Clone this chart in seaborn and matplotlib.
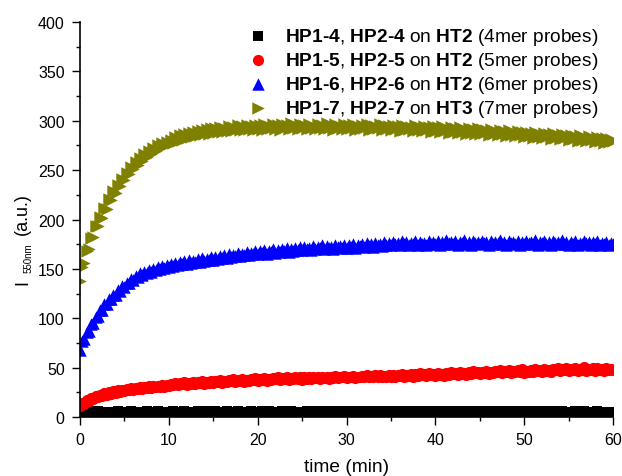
import matplotlib
matplotlib.use("Agg")
import matplotlib.pyplot as plt
import seaborn as sns
import pandas as pd

# sampling grid (min), one row = 5 min
time_min = [0, 0.25, 0.5, 0.75, 1, 1.25, 1.5, 1.75, 2, 2.25, 2.5, 2.75, 3, 3.25, 3.5, 3.75, 4, 4.25, 4.5, 4.75,
            5, 5.25, 5.5, 5.75, 6, 6.25, 6.5, 6.75, 7, 7.25, 7.5, 7.75, 8, 8.25, 8.5, 8.75, 9, 9.25, 9.5, 9.75,
            10, 10.25, 10.5, 10.75, 11, 11.25, 11.5, 11.75, 12, 12.25, 12.5, 12.75, 13, 13.25, 13.5, 13.75, 14, 14.25, 14.5, 14.75,
            15, 15.25, 15.5, 15.75, 16, 16.25, 16.5, 16.75, 17, 17.25, 17.5, 17.75, 18, 18.25, 18.5, 18.75, 19, 19.25, 19.5, 19.75,
            20, 20.25, 20.5, 20.75, 21, 21.25, 21.5, 21.75, 22, 22.25, 22.5, 22.75, 23, 23.25, 23.5, 23.75, 24, 24.25, 24.5, 24.75,
            25, 25.25, 25.5, 25.75, 26, 26.25, 26.5, 26.75, 27, 27.25, 27.5, 27.75, 28, 28.25, 28.5, 28.75, 29, 29.25, 29.5, 29.75,
            30, 30.25, 30.5, 30.75, 31, 31.25, 31.5, 31.75, 32, 32.25, 32.5, 32.75, 33, 33.25, 33.5, 33.75, 34, 34.25, 34.5, 34.75,
            35, 35.25, 35.5, 35.75, 36, 36.25, 36.5, 36.75, 37, 37.25, 37.5, 37.75, 38, 38.25, 38.5, 38.75, 39, 39.25, 39.5, 39.75,
            40, 40.25, 40.5, 40.75, 41, 41.25, 41.5, 41.75, 42, 42.25, 42.5, 42.75, 43, 43.25, 43.5, 43.75, 44, 44.25, 44.5, 44.75,
            45, 45.25, 45.5, 45.75, 46, 46.25, 46.5, 46.75, 47, 47.25, 47.5, 47.75, 48, 48.25, 48.5, 48.75, 49, 49.25, 49.5, 49.75,
            50, 50.25, 50.5, 50.75, 51, 51.25, 51.5, 51.75, 52, 52.25, 52.5, 52.75, 53, 53.25, 53.5, 53.75, 54, 54.25, 54.5, 54.75,
            55, 55.25, 55.5, 55.75, 56, 56.25, 56.5, 56.75, 57, 57.25, 57.5, 57.75, 58, 58.25, 58.5, 58.75, 59, 59.25, 59.5, 59.75,
            60]

# HP1-4, HP2-4 on HT2 (4mer probes)
i_4mer = [5, 5.5, 4.8, 5.2, 5.6, 4.9, 5.3, 5, 5.7, 4.8, 5.1, 5.4, 4.9, 5.5, 5.2, 4.8, 5.3, 5.6, 5, 5.2,
          4.9, 5.4, 5.1, 5.6, 4.8, 5.2, 5.5, 5, 5.3, 4.9, 5.6, 5.1, 4.8, 5.4, 5.2, 5.7, 4.9, 5.3, 5, 5.5,
          5.2, 4.8, 5.6, 5.1, 5.4, 4.9, 5.3, 5.7, 5, 5.2, 4.8, 5.5, 5.1, 5.6, 4.9, 5.3, 5.2, 5.8, 5, 5.4,
          5.1, 5.6, 4.9, 5.3, 5.5, 5, 5.7, 5.2, 4.8, 5.4, 5.1, 5.6, 5, 5.3, 4.9, 5.5, 5.2, 5.7, 5, 5.4,
          5.3, 4.9, 5.6, 5.1, 5.4, 5.8, 5, 5.3, 4.9, 5.5, 5.2, 5.7, 5.1, 5.4, 4.9, 5.6, 5.2, 5.5, 5, 5.3,
          5.5, 5.1, 5.8, 5.2, 4.9, 5.6, 5.3, 5.7, 5, 5.4, 5.2, 5.9, 5.1, 5.5, 4.9, 5.6, 5.3, 5.7, 5.1, 5.4,
          5.2, 5.6, 5, 5.5, 5.3, 5.8, 5.1, 5.4, 4.9, 5.7, 5.2, 5.5, 5, 5.6, 5.3, 5.9, 5.1, 5.4, 5.2, 5.6,
          5.4, 5, 5.7, 5.2, 5.5, 5.9, 5.1, 5.6, 5.3, 5.8, 5, 5.4, 5.2, 5.7, 5.1, 5.5, 5.3, 5.9, 5.2, 5.6,
          5.3, 5.7, 5.1, 5.5, 5.2, 5.8, 5, 5.4, 5.6, 5.2, 5.9, 5.3, 5.5, 5.1, 5.7, 5.4, 5.2, 5.8, 5.3, 5.6,
          5.5, 5.1, 5.8, 5.3, 5.6, 5.2, 5.9, 5.4, 5.1, 5.7, 5.3, 5.5, 5.2, 5.8, 5.4, 5.6, 5.1, 5.7, 5.3, 5.5,
          5.2, 5.6, 5.4, 5.9, 5.1, 5.5, 5.3, 5.7, 5.2, 5.6, 5.4, 5.8, 5.1, 5.5, 5.3, 5.6, 5.2, 5.7, 5.4, 5.5,
          5.1, 5.5, 5.3, 5.6, 5, 5.4, 5.2, 5.7, 5.1, 5.5, 5.3, 5.4, 5, 5.6, 5.2, 5.3, 5.1, 5.5, 5.2, 5.4,
          5.2]

# HP1-5, HP2-5 on HT2 (5mer probes)
i_5mer = [11, 14, 13, 17, 16, 19, 18, 21, 20, 22, 21, 24, 22, 25, 23, 26, 24, 27, 25, 27,
          26, 28, 27, 29, 27, 29, 28, 30, 28, 30, 29, 31, 29, 31, 30, 31, 30, 32, 30, 32,
          31, 33, 32, 34, 32, 34, 33, 35, 32, 34, 33, 35, 33, 35, 34, 36, 33, 35, 34, 36,
          34, 36, 35, 37, 34, 36, 35, 37, 36, 38, 35, 37, 36, 38, 35, 37, 36, 38, 37, 39,
          36, 38, 37, 39, 36, 38, 37, 39, 38, 40, 37, 39, 38, 40, 37, 39, 38, 40, 38, 40,
          37, 40, 38, 41, 38, 40, 39, 41, 38, 40, 39, 41, 38, 41, 39, 42, 39, 41, 40, 42,
          39, 41, 40, 42, 39, 41, 40, 42, 40, 43, 41, 42, 40, 43, 41, 43, 40, 42, 41, 43,
          40, 43, 41, 43, 42, 44, 41, 43, 42, 44, 41, 44, 42, 45, 43, 44, 42, 45, 43, 44,
          42, 45, 43, 44, 42, 45, 43, 46, 44, 45, 43, 46, 44, 45, 43, 46, 44, 47, 45, 46,
          44, 46, 45, 47, 44, 46, 45, 47, 46, 48, 45, 47, 46, 48, 45, 47, 46, 48, 46, 49,
          45, 47, 46, 48, 46, 49, 47, 48, 46, 49, 47, 48, 46, 49, 48, 50, 47, 49, 48, 50,
          47, 49, 48, 50, 47, 49, 48, 51, 47, 49, 48, 50, 47, 50, 48, 49, 47, 50, 48, 49,
          48]

# HP1-6, HP2-6 on HT2 (6mer probes)
i_6mer = [68, 77, 79, 86, 87, 94, 95, 101, 102, 108, 108, 114, 114, 119, 119, 124, 124, 129, 128, 133,
          132, 136, 136, 140, 139, 143, 142, 146, 144, 147, 146, 149, 147, 150, 149, 152, 150, 153, 151, 154,
          152, 155, 153, 156, 154, 157, 155, 158, 155, 159, 156, 158, 157, 160, 157, 161, 158, 160, 159, 162,
          159, 162, 160, 163, 161, 164, 161, 165, 162, 164, 163, 166, 163, 165, 164, 167, 164, 166, 165, 168,
          165, 168, 166, 169, 165, 168, 167, 170, 166, 169, 167, 170, 168, 171, 167, 170, 168, 171, 169, 172,
          169, 172, 170, 171, 169, 173, 170, 172, 171, 174, 170, 173, 171, 172, 170, 174, 172, 173, 171, 174,
          171, 174, 172, 175, 171, 174, 173, 175, 172, 176, 173, 175, 172, 176, 174, 175, 173, 177, 174, 176,
          174, 177, 175, 176, 174, 178, 175, 177, 174, 176, 175, 178, 174, 177, 175, 176, 174, 178, 175, 177,
          175, 178, 174, 177, 175, 179, 176, 177, 175, 178, 174, 177, 176, 179, 175, 177, 174, 178, 176, 177,
          175, 178, 176, 177, 174, 178, 175, 177, 176, 179, 175, 177, 174, 178, 176, 177, 175, 178, 174, 177,
          175, 178, 176, 177, 175, 179, 174, 177, 176, 178, 175, 177, 174, 178, 176, 177, 175, 179, 175, 177,
          174, 177, 175, 178, 174, 176, 175, 178, 176, 177, 174, 177, 175, 178, 174, 176, 175, 177, 174, 176,
          175]

# HP1-7, HP2-7 on HT3 (7mer probes)
i_7mer = [138, 152, 156, 168, 170, 181, 182, 193, 193, 203, 202, 212, 211, 221, 220, 229, 227, 235, 234, 241,
          240, 247, 246, 253, 251, 258, 255, 262, 259, 266, 263, 269, 266, 272, 269, 275, 272, 278, 274, 279,
          276, 281, 278, 284, 280, 286, 281, 287, 283, 288, 284, 289, 285, 290, 286, 291, 287, 292, 287, 293,
          288, 293, 289, 294, 289, 293, 290, 295, 290, 294, 291, 296, 291, 295, 291, 296, 292, 295, 291, 296,
          292, 296, 291, 297, 292, 295, 293, 297, 292, 296, 291, 297, 293, 296, 292, 298, 293, 296, 292, 297,
          293, 296, 292, 297, 293, 295, 292, 297, 293, 296, 292, 298, 293, 296, 291, 297, 293, 295, 292, 297,
          292, 296, 293, 297, 291, 295, 292, 296, 293, 297, 291, 296, 292, 295, 293, 297, 291, 296, 292, 295,
          291, 296, 292, 295, 290, 296, 291, 295, 292, 294, 290, 296, 291, 294, 290, 295, 291, 294, 289, 295,
          290, 294, 289, 295, 290, 293, 288, 294, 289, 293, 288, 294, 289, 292, 287, 293, 288, 292, 287, 293,
          287, 292, 288, 291, 286, 292, 287, 290, 286, 291, 287, 290, 285, 291, 286, 289, 285, 290, 286, 289,
          284, 289, 285, 288, 283, 289, 284, 287, 283, 288, 284, 287, 282, 288, 283, 286, 282, 287, 283, 286,
          281, 286, 282, 285, 280, 286, 281, 284, 280, 285, 281, 283, 279, 284, 280, 283, 278, 283, 279, 282,
          280]

labels = ["$\\mathbf{HP1\u20104}$, $\\mathbf{HP2\u20104}$ on $\\mathbf{HT2}$ (4mer probes)",
          "$\\mathbf{HP1\u20105}$, $\\mathbf{HP2\u20105}$ on $\\mathbf{HT2}$ (5mer probes)",
          "$\\mathbf{HP1\u20106}$, $\\mathbf{HP2\u20106}$ on $\\mathbf{HT2}$ (6mer probes)",
          "$\\mathbf{HP1\u20107}$, $\\mathbf{HP2\u20107}$ on $\\mathbf{HT3}$ (7mer probes)"]
series = [i_4mer, i_5mer, i_6mer, i_7mer]
colors = ["#000000", "#ff0000", "#0000ff", "#808000"]
markers = ["s", "o", "^", ">"]
sizes = [55, 65, 80, 80]

sns.set_style("ticks")
plt.rcParams["font.family"] = ["Liberation Sans", "DejaVu Sans"]
plt.rcParams["mathtext.fontset"] = "custom"
plt.rcParams["mathtext.rm"] = "Liberation Sans"
plt.rcParams["mathtext.bf"] = "Liberation Sans:bold"
plt.rcParams["mathtext.it"] = "Liberation Sans:italic"
plt.rcParams["text.color"] = "black"
plt.rcParams["axes.labelcolor"] = "black"
plt.rcParams["xtick.color"] = "black"
plt.rcParams["ytick.color"] = "black"

fig = plt.figure(figsize=(6.22, 4.77), dpi=100)
ax = fig.add_axes([0.1286, 0.1237, 0.857, 0.828])

for vals, lab, col, mk, sz in zip(series, labels, colors, markers, sizes):
    df = pd.DataFrame({"t": time_min, "I": vals})
    sns.scatterplot(data=df, x="t", y="I", ax=ax, marker=mk, color=col,
                    s=sz, linewidth=0, label=lab)

ax.set_xlim(0, 60)
ax.set_ylim(0, 400)
ax.set_xticks(range(0, 61, 10))
ax.set_xticks(range(5, 60, 10), minor=True)
ax.set_yticks(range(0, 401, 50))
ax.set_yticks(range(25, 400, 50), minor=True)
ax.tick_params(which="major", direction="out", length=6, width=1, labelsize=11.5, pad=5)
ax.tick_params(which="minor", direction="out", length=3, width=1)
for side in ["left", "bottom"]:
    ax.spines[side].set_linewidth(1.2)
    ax.spines[side].set_color("black")
sns.despine(ax=ax)

ax.set_xlabel("time (min)", fontsize=13.8, labelpad=8)
ax.set_ylabel("")

# y label: I with small 550nm subscript, then (a.u.)
W, H = 622, 477
txt = dict(rotation=90, rotation_mode="anchor", ha="left", va="baseline")
fig.text(27 / W, 1 - 285 / H, "I", fontsize=13, **txt)
fig.text(32 / W, 1 - 273 / H, "550nm", fontsize=7, **txt)
fig.text(27 / W, 1 - 235 / H, "(a.u.)", fontsize=13, **txt)

ax.legend(loc="upper right", bbox_to_anchor=(0.994, 1.02), frameon=False, fontsize=13.8,
          handletextpad=0.9, labelspacing=0.17, markerscale=1.0, borderaxespad=0.2,
          handlelength=1.0)

fig.savefig("out.png", dpi=100)
